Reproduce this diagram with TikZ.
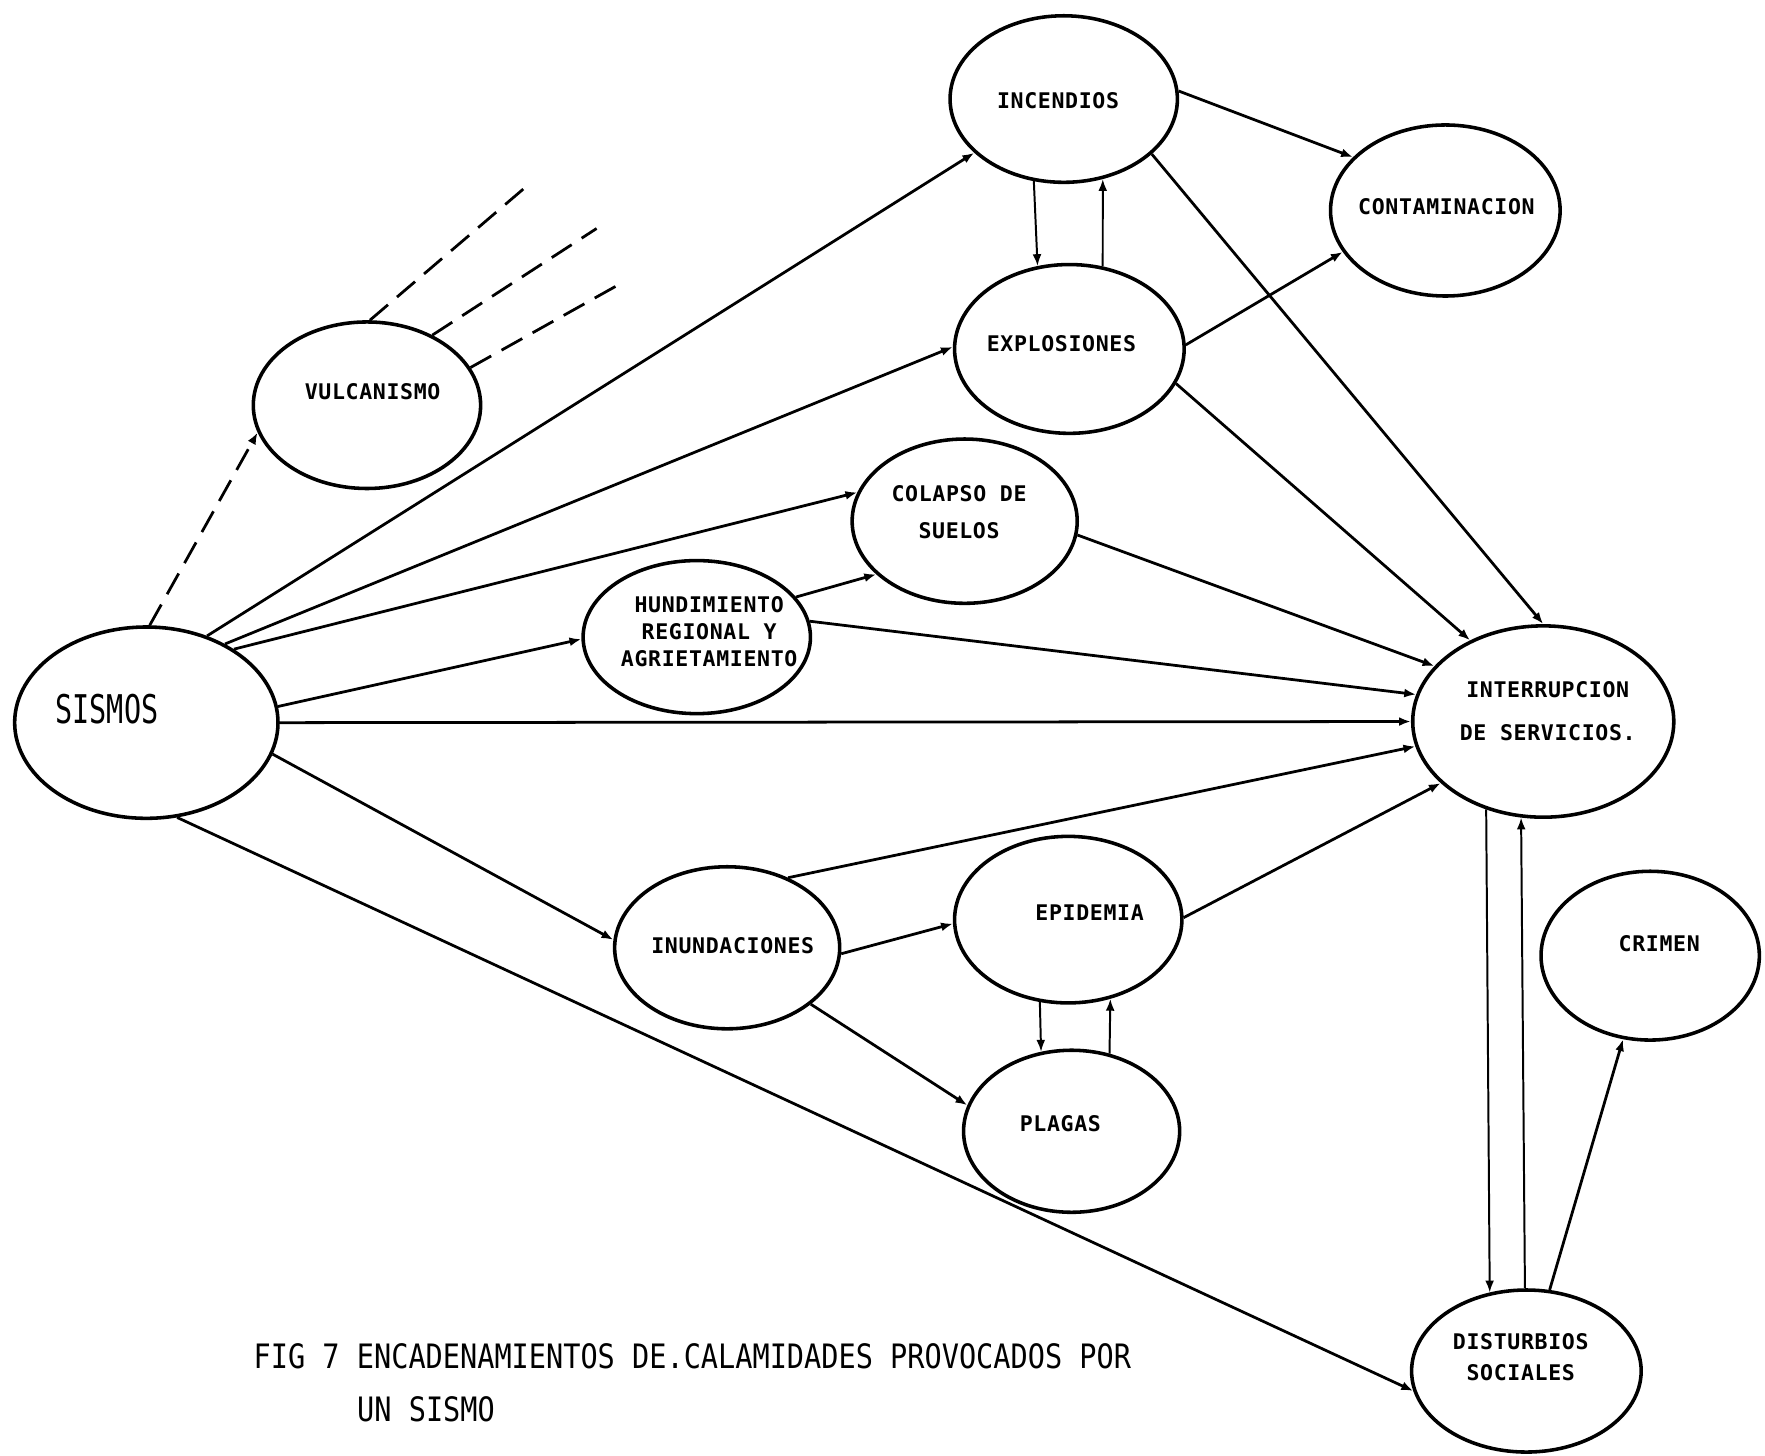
\documentclass[tikz,border=0pt]{standalone}
\usepackage{fontspec}
\usetikzlibrary{shapes.geometric,arrows.meta}

\newfontfamily\lblfont[LetterSpace=3]{DejaVu Sans Mono}
\newfontfamily\sisfont[FakeStretch=0.72]{DejaVu Sans Mono}
\newfontfamily\capfont[FakeStretch=0.85]{DejaVu Sans Mono}

\tikzset{
  calam/.style={draw, ellipse, line width=1.8pt, inner sep=0pt},
  txt/.style={inner sep=0pt, align=center, font=\lblfont\bfseries\fontsize{10.9}{13.7}\selectfont},
  link/.style={draw, line width=1.4pt, -{Latex[length=6pt,width=4.5pt]}},
  pair/.style={link, line width=1pt},
  lava/.style={draw, line width=1.4pt, dash pattern=on 12pt off 6pt},
}

\begin{document}
\begin{tikzpicture}[x=0.02cm, y=-0.02cm]
    \useasboundingbox (0,0) rectangle (1568,1293);

    % ellipses
    \node[calam, minimum width=4.68cm, minimum height=3.40cm] (sismos)  at (130,642)  {};
    \node[calam, minimum width=4.04cm, minimum height=2.96cm] (vulcan)  at (326,360)  {};
    \node[calam, minimum width=4.04cm, minimum height=2.96cm] (incend)  at (945,88)   {};
    \node[calam, minimum width=4.08cm, minimum height=3.00cm] (explo)   at (950,310)  {};
    \node[calam, minimum width=4.08cm, minimum height=3.04cm] (contam)  at (1284,187) {};
    \node[calam, minimum width=4.00cm, minimum height=2.92cm] (colapso) at (857,463)  {};
    \node[calam, minimum width=4.04cm, minimum height=2.72cm] (hundim)  at (619,566)  {};
    \node[calam, minimum width=4.64cm, minimum height=3.40cm] (interr)  at (1371,641) {};
    \node[calam, minimum width=4.00cm, minimum height=2.88cm] (inund)   at (646,842)  {};
    \node[calam, minimum width=4.04cm, minimum height=2.96cm] (epid)    at (949,817)  {};
    \node[calam, minimum width=3.84cm, minimum height=2.88cm] (plagas)  at (952,1005) {};
    \node[calam, minimum width=3.88cm, minimum height=3.00cm] (crimen)  at (1466,849) {};
    \node[calam, minimum width=4.08cm, minimum height=2.88cm] (distur)  at (1356,1218) {};

    % texts
    \node[txt, font=\sisfont\fontsize{20}{24}\selectfont] (sismos-t) at (95,630) {SISMOS};
    \node[txt] (vulcan-t)  at (331,348)  {VULCANISMO};
    \node[txt] (incend-t)  at (940,89)   {INCENDIOS};
    \node[txt] (explo-t)   at (943,305)  {EXPLOSIONES};
    \node[txt] (contam-t)  at (1285,184) {CONTAMINACION};
    \node[txt] (colapso-t) at (852,455)  {COLAPSO DE\\[5pt]SUELOS};
    \node[txt] (hundim-t)  at (630,561)  {HUNDIMIENTO\\REGIONAL Y\\AGRIETAMIENTO};
    \node[txt] (interr-t)  at (1375,632) {INTERRUPCION\\[8pt]DE SERVICIOS.};
    \node[txt] (inund-t)   at (651,840)  {INUNDACIONES};
    \node[txt] (epid-t)    at (968,811)  {EPIDEMIA};
    \node[txt] (plagas-t)  at (942,998)  {PLAGAS};
    \node[txt] (crimen-t)  at (1474,838) {CRIMEN};
    \node[txt] (distur-t)  at (1351,1206) {DISTURBIOS\\[2pt]SOCIALES};

    % from the earthquake
    \path[lava, -{Latex[length=6pt,width=4.5pt]}] (sismos.88) -- (vulcan.194);
    \path[link] (sismos.55) -- (incend.211);
    \path[link] (sismos.45) -- (explo.179);
    \path[link] (sismos.40) -- (colapso.165);
    \path[link] (sismos.7) -- (hundim.181);
    \path[link] (sismos.0) -- (interr.180);
    \path[link] (sismos.-14) -- (inund.176);
    \path[link] (sismos.-72) -- (distur.190);

    % volcano
    \coordinate (lava1) at (466,167);
    \coordinate (lava2) at (530,203);
    \coordinate (lava3) at (553,251);
    \path[lava] (vulcan.88) -- (lava1);
    \path[lava] (vulcan.47) -- (lava2);
    \path[lava] (vulcan.20) -- (lava3);

    % fires and explosions
    \path[link] (incend.4) -- (contam.150);
    \path[link] (incend.328) -- (interr.90);
    \path[pair] (incend.250) -- (explo.111);
    \path[pair] (explo.68) -- (incend.296);
    \path[link] (explo.2) -- (contam.202);
    \path[link] (explo.342) -- (interr.132);

    % ground
    \path[link] (hundim.22) -- (colapso.211);
    \path[link] (hundim.8) -- (interr.168);
    \path[link] (colapso.353) -- (interr.153);

    % floods
    \path[link] (inund.49) -- (interr.191);
    \path[link] (inund.357) -- (epid.182);
    \path[link] (inund.326) -- (plagas.166);
    \path[link] (epid.1) -- (interr.211);
    \path[pair] (epid.251) -- (plagas.111);
    \path[pair] (plagas.64) -- (epid.298);

    % services and society
    \path[pair] (interr.237) -- (distur.115);
    \path[pair] (distur.91) -- (interr.257);
    \path[link] (distur.74) -- (crimen.252);

    % caption
    \node[anchor=west, inner sep=0pt, font=\capfont\fontsize{17}{20}\selectfont] (fig) at (225,1205)
      {FIG 7 ENCADENAMIENTOS DE.CALAMIDADES PROVOCADOS POR};
    \node[anchor=west, inner sep=0pt, font=\capfont\fontsize{17}{20}\selectfont] (fig-b) at (317,1252)
      {UN SISMO};
\end{tikzpicture}
\end{document}
